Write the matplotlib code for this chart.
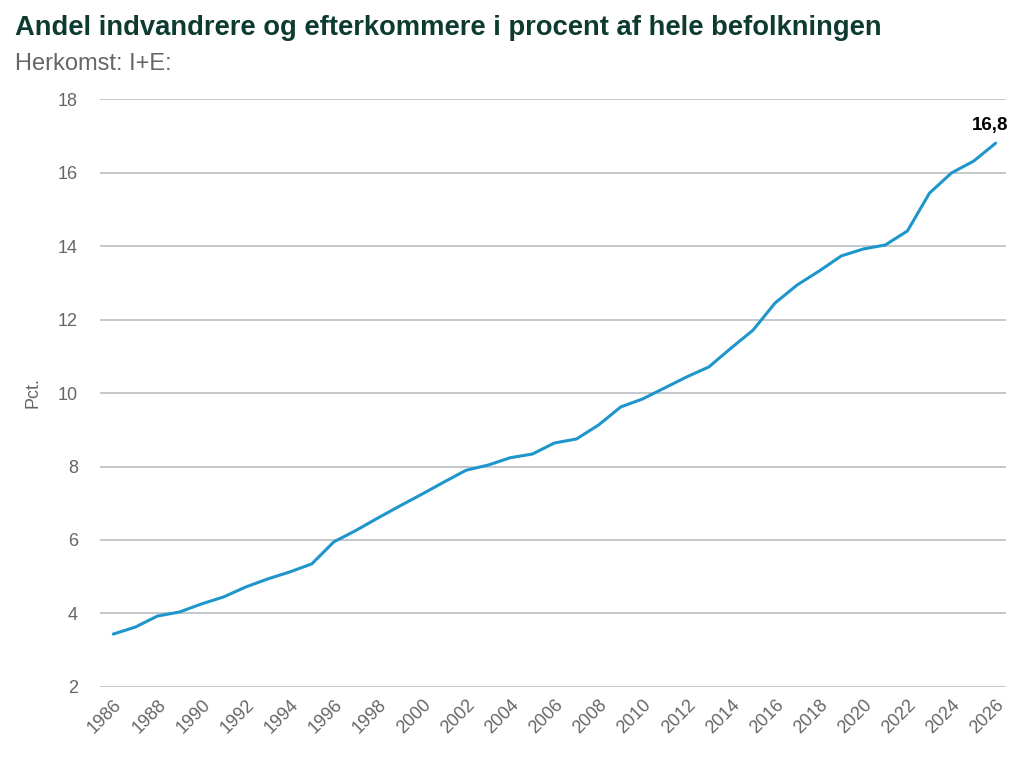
import matplotlib
matplotlib.use('Agg')
import matplotlib.pyplot as plt

plt.rcParams['font.family'] = ['Liberation Sans', 'DejaVu Sans']

# Data
years = list(range(1986, 2027))
share = [3.44, 3.63, 3.93, 4.04, 4.26, 4.45, 4.72, 4.94, 5.13, 5.35,
         5.95, 6.26, 6.6, 6.93, 7.25, 7.58, 7.9, 8.04, 8.24, 8.34,
         8.64, 8.75, 9.13, 9.62, 9.84, 10.14, 10.44, 10.71, 11.22, 11.71,
         12.45, 12.94, 13.32, 13.73, 13.92, 14.03, 14.41, 15.44, 15.99, 16.31,
         16.8]
tick_years = list(range(1986, 2027, 2))
y_ticks = [2, 4, 6, 8, 10, 12, 14, 16, 18]

line_colour = '#1e96cc'
grid_colour = '#b7bfc3'
text_grey = '#666666'

fig = plt.figure(figsize=(10.24, 7.68), dpi=100)
ax = fig.add_axes([0.0977, 0.1055, 0.8843, 0.7655])

ax.plot(years, share, color=line_colour, linewidth=2.2, solid_capstyle='round')

ax.set_xlim(1985.4, 2026.45)
ax.set_ylim(2, 18)
ax.set_yticks(y_ticks)
ax.set_xticks(tick_years)
ax.set_xticklabels([str(y) for y in tick_years], rotation=45, ha='right',
                   rotation_mode='anchor')

ax.grid(axis='y', color=grid_colour, linewidth=1.2)
ax.set_axisbelow(True)
for s in ax.spines.values():
    s.set_visible(False)
ax.tick_params(axis='both', length=0, colors=text_grey, labelsize=13)
ax.tick_params(axis='y', pad=16)
ax.tick_params(axis='x', pad=7)

ax.set_ylabel('Pct.', color=text_grey, fontsize=13, labelpad=12)

# label at last point
ax.annotate(f'{share[-1]:.1f}'.replace('.', ','), (years[-1], share[-1]),
            xytext=(-4, 13), textcoords='offset points', ha='center', va='center',
            fontsize=13.5, fontweight='bold', color='black')

fig.text(0.015, 0.9635, 'Andel indvandrere og efterkommere i procent af hele befolkningen',
         fontsize=19.7, fontweight='bold', color='#0d3b2f', va='center', ha='left')
fig.text(0.015, 0.917, 'Herkomst: I+E:', fontsize=17, color=text_grey,
         va='center', ha='left')

plt.savefig('out.png', dpi=100)
